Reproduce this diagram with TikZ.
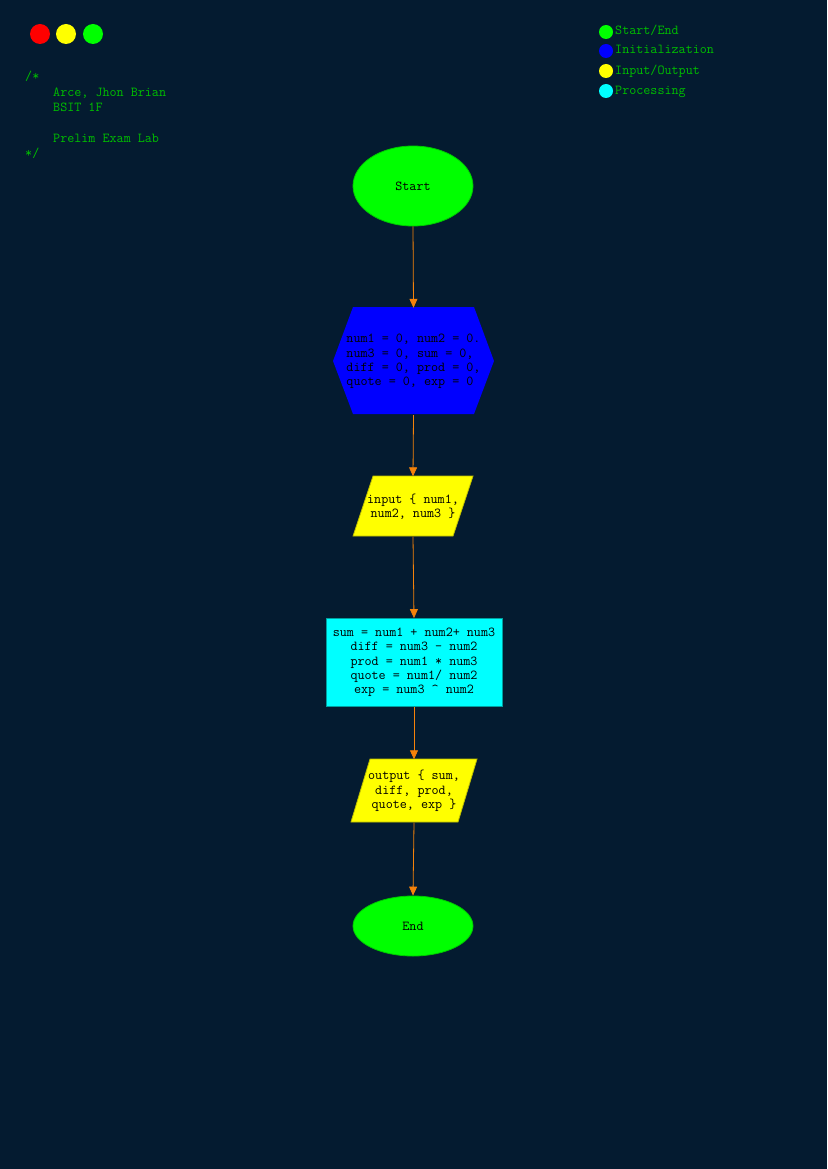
\documentclass[tikz,border=0pt]{standalone}
\usepackage{fontspec}
\usetikzlibrary{shapes.geometric,arrows.meta}
\definecolor{bg}{RGB}{4,27,48}
\definecolor{txtgreen}{RGB}{0,190,0}
\definecolor{sgreen}{RGB}{0,255,0}
\definecolor{sgreenb}{RGB}{0,200,0}
\definecolor{syellow}{RGB}{255,255,0}
\definecolor{syellowb}{RGB}{190,190,0}
\definecolor{scyan}{RGB}{0,255,255}
\definecolor{scyanb}{RGB}{0,160,160}
\definecolor{sblue}{RGB}{0,0,255}
\definecolor{sred}{RGB}{255,0,0}
\definecolor{conncol}{RGB}{245,130,10}
\tikzset{
  dot/.style={circle,inner sep=0pt,minimum size=20pt},
  ldot/.style={circle,inner sep=0pt,minimum size=14pt},
  comment/.style={anchor=base west,inner sep=0pt,text=txtgreen},
  termbox/.style={ellipse,fill=sgreen,draw=sgreenb,line width=0.8pt,minimum width=120pt,inner sep=0pt},
  textbox/.style={inner sep=0pt,align=center,text=black},
  conn/.style={draw=conncol,line width=0.8pt,-{Triangle[length=9pt,width=8pt]}}
}
\begin{document}
\begin{tikzpicture}[x=1pt,y=-1pt,font=\ttfamily\fontsize{13.7}{14.3}\selectfont]
\fill[bg] (0,0) rectangle (827,1169);
\useasboundingbox (0,0) rectangle (827,1169);

% window dots
\node[dot,fill=sred] (d1) at (40,34) {};
\node[dot,fill=syellow] (d2) at (66,34) {};
\node[dot,fill=sgreen] (d3) at (93,34) {};

% comment
\node[comment] (c1) at (25,81) {/*};
\node[comment] (c2) at (53,97) {Arce, Jhon Brian};
\node[comment] (c3) at (53,112) {BSIT 1F};
\node[comment] (c4) at (53,143) {Prelim Exam Lab};
\node[comment] (c5) at (25,158) {*/};

% legend
\node[ldot,fill=sgreen] (l1) at (606,32) {};
\node[ldot,fill=sblue] (l2) at (606,51) {};
\node[ldot,fill=syellow] (l3) at (606,71) {};
\node[ldot,fill=scyan] (l4) at (606,91) {};
\node[comment] (lt1) at (615,35) {Start/End};
\node[comment] (lt2) at (615,54) {Initialization};
\node[comment] (lt3) at (615,75) {Input/Output};
\node[comment] (lt4) at (615,95) {Processing};

% shapes
\node[termbox,minimum height=80pt] (start) at (413,186) {Start};

\fill[sblue] (353,307) -- (474,307) -- (494,361) -- (474,414) -- (353,414) -- (333,361) -- cycle;
\node[textbox,align=left,minimum width=161pt,minimum height=107pt] (init) at (413.5,361.5)
  {num1 = 0, num2 = 0.\\num3 = 0, sum = 0,\\diff = 0, prod = 0,\\quote = 0, exp = 0};

\filldraw[fill=syellow,draw=syellowb,line width=0.8pt] (373,476) -- (473,476) -- (453,536) -- (353,536) -- cycle;
\node[textbox,minimum width=100pt,minimum height=60pt] (input) at (413,506.5)
  {input \{ num1,\\num2, num3 \}};

\node[textbox,fill=scyan,draw=scyanb,line width=0.8pt,minimum width=176pt,minimum height=88pt] (proc) at (414,662.5)
  {sum = num1 + num2+ num3\\diff = num3 - num2\\prod = num1 * num3\\quote = num1/ num2\\exp = num3 \^{} num2};

\filldraw[fill=syellow,draw=syellowb,line width=0.8pt] (370,759) -- (477,759) -- (458,822) -- (351,822) -- cycle;
\node[textbox,minimum width=100pt,minimum height=63pt] (output) at (414,791)
  {output \{ sum,\\diff, prod,\\quote, exp \}};

\node[termbox,minimum height=60pt] (end) at (413,926) {End};

% connectors
\draw[conn] (start.south) -- (init.north);
\draw[conn] (init.south) -- (input.north);
\draw[conn] (input.south) -- (proc.north);
\draw[conn] (proc.south) -- (output.north);
\draw[conn] (output.south) -- (end.north);
\end{tikzpicture}
\end{document}
